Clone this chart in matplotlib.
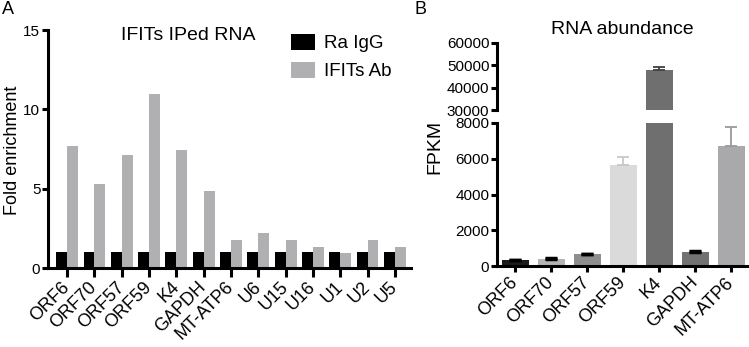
import matplotlib
matplotlib.use("Agg")
import matplotlib.pyplot as plt
import matplotlib.transforms as mtrans
import numpy as np

plt.rcParams['font.family'] = ['Liberation Sans', 'DejaVu Sans']

# panel A data
genes_a = ['ORF6', 'ORF70', 'ORF57', 'ORF59', 'K4', 'GAPDH', 'MT-ATP6',
           'U6', 'U15', 'U16', 'U1', 'U2', 'U5']
igg = [1, 1, 1, 1, 1, 1, 1, 1, 1, 1, 1, 1, 1]
ifits = [7.7, 5.3, 7.1, 10.95, 7.45, 4.85, 1.75, 2.2, 1.75, 1.3, 0.95, 1.75, 1.35]

# panel B data
genes_b = ['ORF6', 'ORF70', 'ORF57', 'ORF59', 'K4', 'GAPDH', 'MT-ATP6']
fpkm = [330, 410, 650, 5650, 47800, 810, 6700]
fpkm_err = [30, 50, 40, 430, 1500, 40, 1100]
colors_b = ['#1c1c1c', '#b4b4b6', '#8e8e8e', '#dadada', '#6f6f6f', '#727272', '#a9a9ab']
errcol_b = ['black', 'black', 'black', '#c8c8c8', '#404040', 'black', '#9a9a9a']

W, H = 749, 347
fig = plt.figure(figsize=(W / 100, H / 100), dpi=100)

def box(l, t, r, b):
    return [l / W, 1 - b / H, (r - l) / W, (b - t) / H]

def rot_labels(ax, labels, fs):
    ax.set_xticklabels(labels, rotation=45, ha='right', va='center',
                       rotation_mode='anchor', fontsize=fs)
    shift = mtrans.ScaledTranslation(4 / 100, 0, fig.dpi_scale_trans)
    for t in ax.get_xticklabels():
        t.set_transform(t.get_transform() + shift)

lw = 2.2
tick_fs = 11
xtick_fs = 13
lab_fs = 13

# ---- panel A
axA = fig.add_axes(box(48, 30, 411, 268))
x = np.arange(len(genes_a))
bw = 0.4
axA.bar(x - bw / 2, igg, bw, color='black', label='Ra IgG')
axA.bar(x + bw / 2, ifits, bw, color='#b0b0b3', label='IFITs Ab')
axA.set_xlim(-0.7, 12.59)
axA.set_ylim(0, 15)
axA.set_yticks([0, 5, 10, 15])
axA.set_xticks(x)
rot_labels(axA, genes_a, xtick_fs)
for s in ['top', 'right']:
    axA.spines[s].set_visible(False)
for s in ['left', 'bottom']:
    axA.spines[s].set_linewidth(lw)
axA.tick_params(axis='y', width=lw, length=4.5, labelsize=tick_fs, pad=1)
axA.tick_params(axis='x', width=lw, length=6.5, pad=5.5)
axA.text(0.386, 0.975, 'IFITs IPed RNA', transform=axA.transAxes,
         ha='center', va='center', fontsize=14)
leg = axA.legend(loc='upper left', bbox_to_anchor=(0.632, 1.04), frameon=False,
                 fontsize=13.5, handlelength=1.33, handleheight=0.96,
                 labelspacing=0.5, handletextpad=0.45, borderpad=0.2)
fig.text(13 / W, 1 - 150 / H, 'Fold enrichment', rotation=90,
         ha='center', va='center', fontsize=lab_fs)

# ---- panel B (broken axis)
axB = fig.add_axes(box(497, 123, 749, 266))
axT = fig.add_axes(box(497, 43, 749, 110))
xb = np.arange(len(genes_b))
for ax in (axB, axT):
    ax.bar(xb, fpkm, 0.75, color=colors_b)
    for i in range(len(xb)):
        ax.errorbar(xb[i], fpkm[i], yerr=[[0], [fpkm_err[i]]], color=errcol_b[i],
                    capsize=4.5, elinewidth=1.3, capthick=2.5 if errcol_b[i] == 'black' else 1.3)
    ax.set_xlim(-0.5, 6.5)
    for s in ['top', 'right']:
        ax.spines[s].set_visible(False)
    ax.spines['left'].set_linewidth(lw)
    ax.tick_params(axis='y', width=lw, length=4.5, labelsize=tick_fs, pad=1)

axB.set_ylim(0, 8000)
axB.set_yticks([0, 2000, 4000, 6000, 8000])
axB.spines['bottom'].set_linewidth(lw)
axB.set_xticks(xb)
rot_labels(axB, genes_b, xtick_fs)
axB.tick_params(axis='x', width=lw, length=4.5, pad=5.5)

axT.set_ylim(30000, 60000)
axT.set_yticks([30000, 40000, 50000, 60000])
axT.spines['bottom'].set_visible(False)
axT.set_xticks([])

fig.text(435 / W, 1 - 147 / H, 'FPKM', rotation=90, ha='center', va='center', fontsize=14)
fig.text(622 / W, 1 - 29 / H, 'RNA abundance', ha='center', va='center', fontsize=14)

fig.text(2 / W, 1 - 1 / H, 'A', ha='left', va='top', fontsize=13)
fig.text(414 / W, 1 - 1 / H, 'B', ha='left', va='top', fontsize=13)

fig.savefig('out.png', dpi=100)
